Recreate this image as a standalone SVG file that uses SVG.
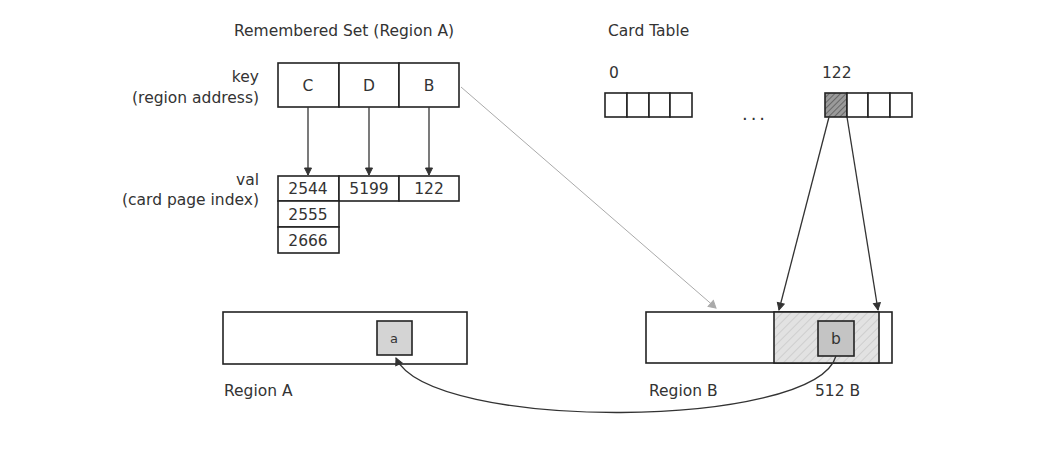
<svg xmlns="http://www.w3.org/2000/svg" width="1047" height="449" viewBox="0 0 1047 449">
<style>
text{font-family:"DejaVu Sans","Liberation Sans",sans-serif;font-size:15.5px;fill:#333}
.box{fill:#fff;stroke:#222;stroke-width:1.6}
.cell{fill:#fff;stroke:#222;stroke-width:1.6}
.c{text-anchor:middle}
.r{text-anchor:end}
.ln{fill:none;stroke:#333;stroke-width:1.3}
</style>
<defs>
<pattern id="h1" width="4" height="4" patternUnits="userSpaceOnUse" patternTransform="rotate(45)">
<rect width="4" height="4" fill="#9a9a9a"/><line x1="0" y1="0" x2="0" y2="4" stroke="#444" stroke-width="1.2"/>
</pattern>
<pattern id="h2" width="6" height="6" patternUnits="userSpaceOnUse" patternTransform="rotate(45)">
<rect width="6" height="6" fill="#e2e2e2"/><line x1="0" y1="0" x2="0" y2="6" stroke="#bbb" stroke-width="1"/>
</pattern>
<marker id="ar" markerWidth="10" markerHeight="10" refX="8" refY="5" orient="auto" markerUnits="userSpaceOnUse">
<path d="M1,1.5 L8,5 L1,8.5 z" fill="#333" stroke="#333" stroke-width="1"/>
</marker>
<marker id="arg" markerWidth="10" markerHeight="10" refX="8" refY="5" orient="auto" markerUnits="userSpaceOnUse">
<path d="M1,1 L8,5 L1,9 z" fill="#aaa" stroke="#aaa" stroke-width="1"/>
</marker>
</defs>
<rect width="1047" height="449" fill="#fff"/>

<g id="rset-title"><text x="344" y="36" class="c">Remembered Set (Region A)</text></g>
<g id="key-label"><text x="259" y="82" class="r">key</text><text x="259" y="103" class="r">(region address)</text></g>
<g id="key-C"><rect class="box" x="278" y="63" width="61" height="44"/><text x="308" y="91" class="c">C</text></g>
<g id="key-D"><rect class="box" x="339" y="63" width="60" height="44"/><text x="369" y="91" class="c">D</text></g>
<g id="key-B"><rect class="box" x="399" y="63" width="60" height="44"/><text x="429" y="91" class="c">B</text></g>

<g id="val-label"><text x="259" y="185" class="r">val</text><text x="259" y="205" class="r">(card page index)</text></g>
<g id="val-2544"><rect class="box" x="278" y="176" width="61" height="25"/><text x="308" y="194" class="c">2544</text></g>
<g id="val-5199"><rect class="box" x="339" y="176" width="60" height="25"/><text x="369" y="194" class="c">5199</text></g>
<g id="val-122"><rect class="box" x="399" y="176" width="60" height="25"/><text x="429" y="194" class="c">122</text></g>
<g id="val-2555"><rect class="box" x="278" y="201" width="61" height="26"/><text x="308" y="220" class="c">2555</text></g>
<g id="val-2666"><rect class="box" x="278" y="227" width="61" height="26"/><text x="308" y="246" class="c">2666</text></g>

<g id="card-table">
<text x="608" y="36">Card Table</text>
<text x="609" y="78">0</text>
<text x="822" y="78">122</text>
<rect class="cell" x="605" y="93" width="22" height="24"/>
<rect class="cell" x="627" y="93" width="22" height="24"/>
<rect class="cell" x="649" y="93" width="21" height="24"/>
<rect class="cell" x="670" y="93" width="22" height="24"/>
<text x="755" y="120" class="c" style="font-size:18px;letter-spacing:3px">...</text>
<rect class="cell" x="825" y="93" width="22" height="24" style="fill:url(#h1)"/>
<rect class="cell" x="847" y="93" width="21" height="24"/>
<rect class="cell" x="868" y="93" width="22" height="24"/>
<rect class="cell" x="890" y="93" width="22" height="24"/>
</g>

<g id="region-A">
<rect class="box" x="223" y="312" width="244" height="52"/>
<rect x="377" y="321" width="35" height="34" fill="#d4d4d4" stroke="#222" stroke-width="1.6"/>
<text x="394" y="343" class="c" style="font-size:13px">a</text>
<text x="224" y="396">Region A</text>
</g>

<g id="region-B">
<rect class="box" x="646" y="312" width="246" height="51"/>
<rect x="774" y="312" width="105" height="51" fill="url(#h2)" stroke="#222" stroke-width="1.6"/>
<rect x="818" y="321" width="36" height="35" fill="#c4c4c4" stroke="#222" stroke-width="1.6"/>
<text x="836" y="344" class="c">b</text>
<text x="649" y="396">Region B</text>
<text x="815" y="396">512 B</text>
</g>

<g id="connectors">
<line class="ln" x1="308" y1="107" x2="308" y2="175" marker-end="url(#ar)"/>
<line class="ln" x1="369" y1="107" x2="369" y2="175" marker-end="url(#ar)"/>
<line class="ln" x1="429" y1="107" x2="429" y2="175" marker-end="url(#ar)"/>
<line x1="461" y1="87" x2="716" y2="308" stroke="#aaa" stroke-width="1" marker-end="url(#arg)"/>
<line class="ln" x1="829" y1="117" x2="779" y2="310" marker-end="url(#ar)"/>
<line class="ln" x1="847" y1="117" x2="878" y2="310" marker-end="url(#ar)"/>
<path class="ln" d="M836,356 C815,430 430,432 396,358" marker-end="url(#ar)"/>
</g>
</svg>
